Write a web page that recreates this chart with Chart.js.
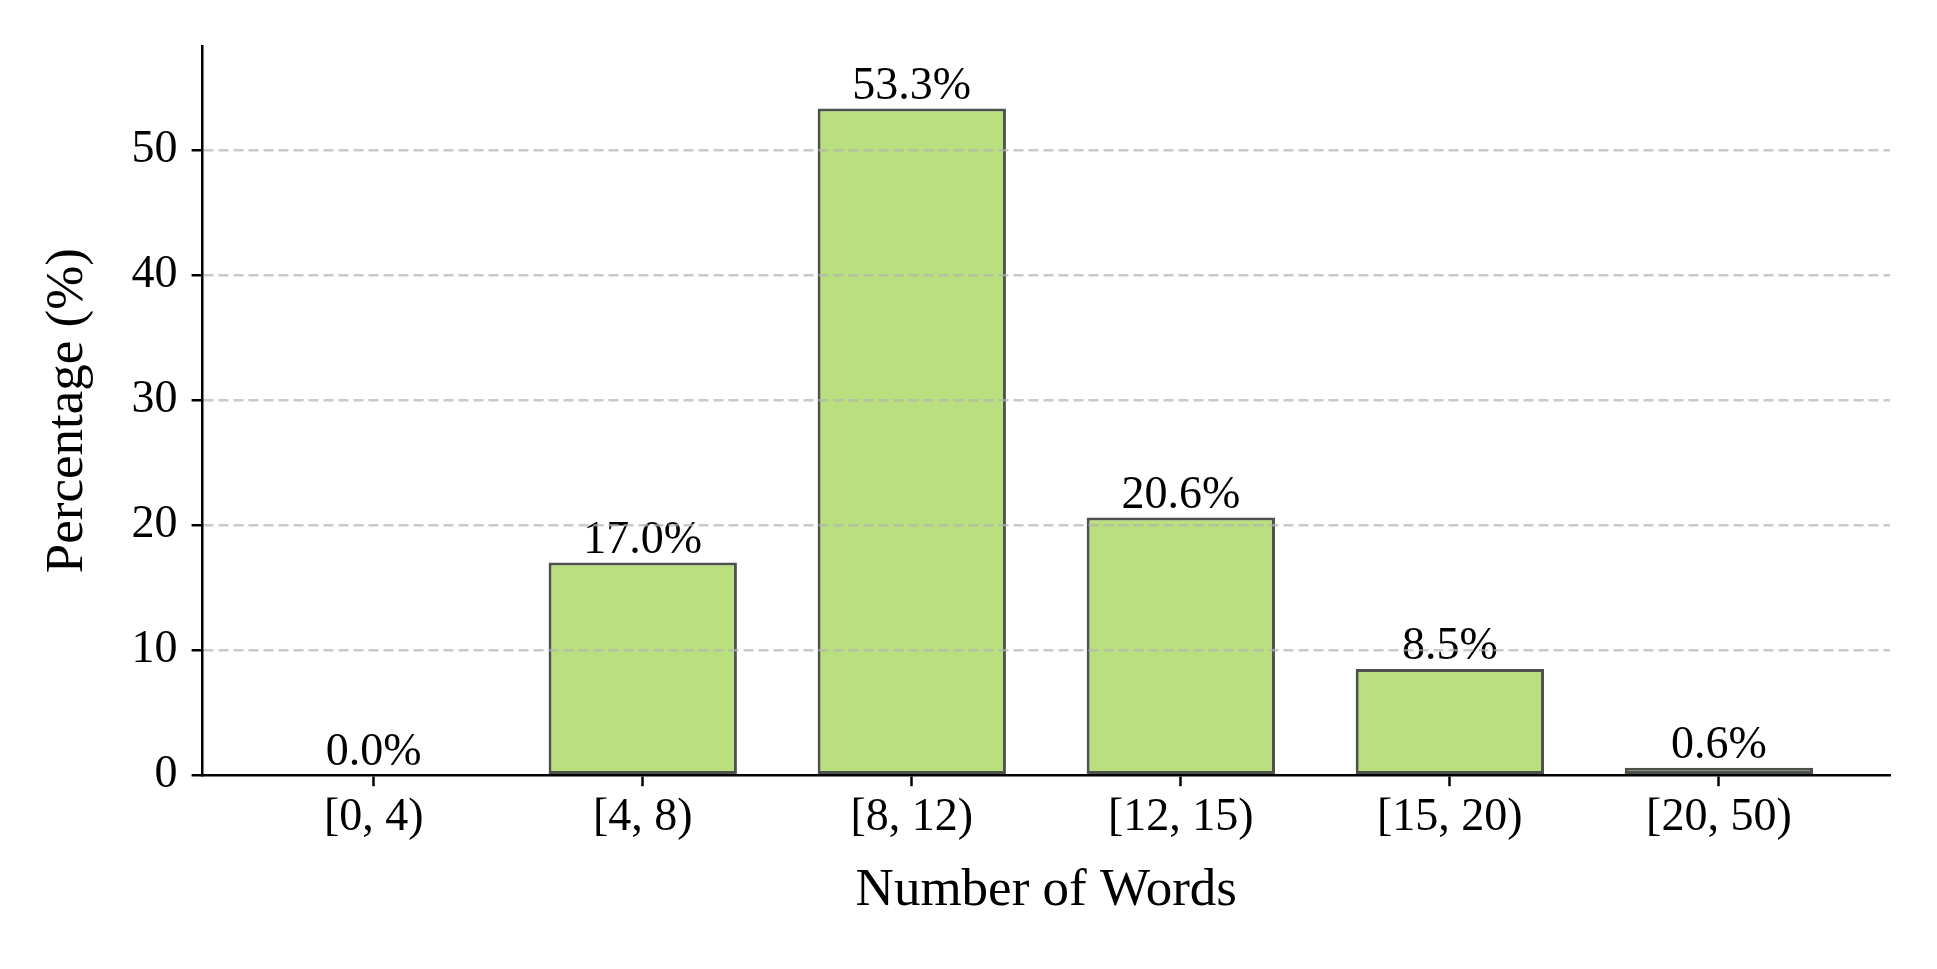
<!DOCTYPE html>
<html>
<head>
<meta charset="utf-8">
<script src="https://cdn.jsdelivr.net/npm/chart.js@4/dist/chart.umd.min.js"></script>
<style>
  html, body { margin: 0; padding: 0; background: #fff; }
  #wrap { width: 1937px; height: 969px; }
</style>
</head>
<body>
<div id="wrap"><canvas id="myCanvas" width="1937" height="969"></canvas></div>
<script>
const categories = ['[0, 4)', '[4, 8)', '[8, 12)', '[12, 15)', '[15, 20)', '[20, 50)'];
const percentages = [0.0, 17.0, 53.3, 20.6, 8.5, 0.6];
const yTicks = [0, 10, 20, 30, 40, 50];

const FONT = "'Liberation Serif', 'DejaVu Serif', serif";

// value labels above each bar
const barLabels = {
  id: 'barLabels',
  afterDatasetsDraw(chart) {
    const ctx = chart.ctx;
    const meta = chart.getDatasetMeta(0);
    ctx.save();
    ctx.font = '46px ' + FONT;
    ctx.fillStyle = '#000';
    ctx.textAlign = 'center';
    ctx.textBaseline = 'alphabetic';
    meta.data.forEach((bar, i) => {
      ctx.fillText(percentages[i].toFixed(1) + '%', bar.x, bar.y - 10);
    });
    ctx.restore();
  }
};

let ctx = document.getElementById('myCanvas').getContext('2d');
let chart = new Chart(ctx, {
  type: 'bar',
  data: {
    datasets: [{
      data: categories.map((c, i) => ({ x: i, y: percentages[i] })),
      backgroundColor: '#b9df7e',
      borderColor: '#4e524c',
      borderWidth: 3,
      borderSkipped: false,
      barPercentage: 0.7,
      categoryPercentage: 1.0
    }]
  },
  options: {
    responsive: false,
    animation: false,
    layout: { padding: { left: 10, right: 47, top: 46, bottom: 46 } },
    plugins: {
      legend: { display: false },
      tooltip: { enabled: false }
    },
    scales: {
      x: {
        type: 'linear',
        min: -0.636,
        max: 5.636,
        offset: false,
        afterBuildTicks: (scale) => {
          scale.ticks = categories.map((c, i) => ({ value: i }));
        },
        ticks: {
          callback: (v) => categories[v],
          color: '#000',
          font: { family: FONT, size: 46 },
          padding: 4,
          maxRotation: 0
        },
        grid: {
          offset: false,
          drawOnChartArea: false,
          drawTicks: true,
          tickLength: 11,
          tickWidth: 2.5,
          tickColor: '#000'
        },
        border: { display: true, color: '#000', width: 2.5, z: 2 },
        title: {
          display: true,
          text: 'Number of Words',
          color: '#000',
          font: { family: FONT, size: 53 },
          padding: { top: 10, bottom: 0 }
        }
      },
      y: {
        min: 0,
        max: 58.3,
        afterBuildTicks: (scale) => {
          scale.ticks = yTicks.map(v => ({ value: v }));
        },
        ticks: {
          color: '#000',
          font: { family: FONT, size: 46 },
          padding: 14
        },
        grid: {
          color: (c) => c.tick && c.tick.value === 0 ? 'rgba(0,0,0,0)' : 'rgba(180,180,180,0.7)',
          lineWidth: 2.5,
          drawTicks: true,
          tickLength: 11,
          tickWidth: 2.5,
          tickColor: '#000',
          z: 1
        },
        border: { display: true, color: '#000', width: 2.5, dash: [10, 5], z: 2 },
        title: {
          display: true,
          text: 'Percentage (%)',
          color: '#000',
          font: { family: FONT, size: 53 },
          padding: { top: 26, bottom: 18 }
        }
      }
    }
  },
  plugins: [barLabels]
});
</script>
</body>
</html>
